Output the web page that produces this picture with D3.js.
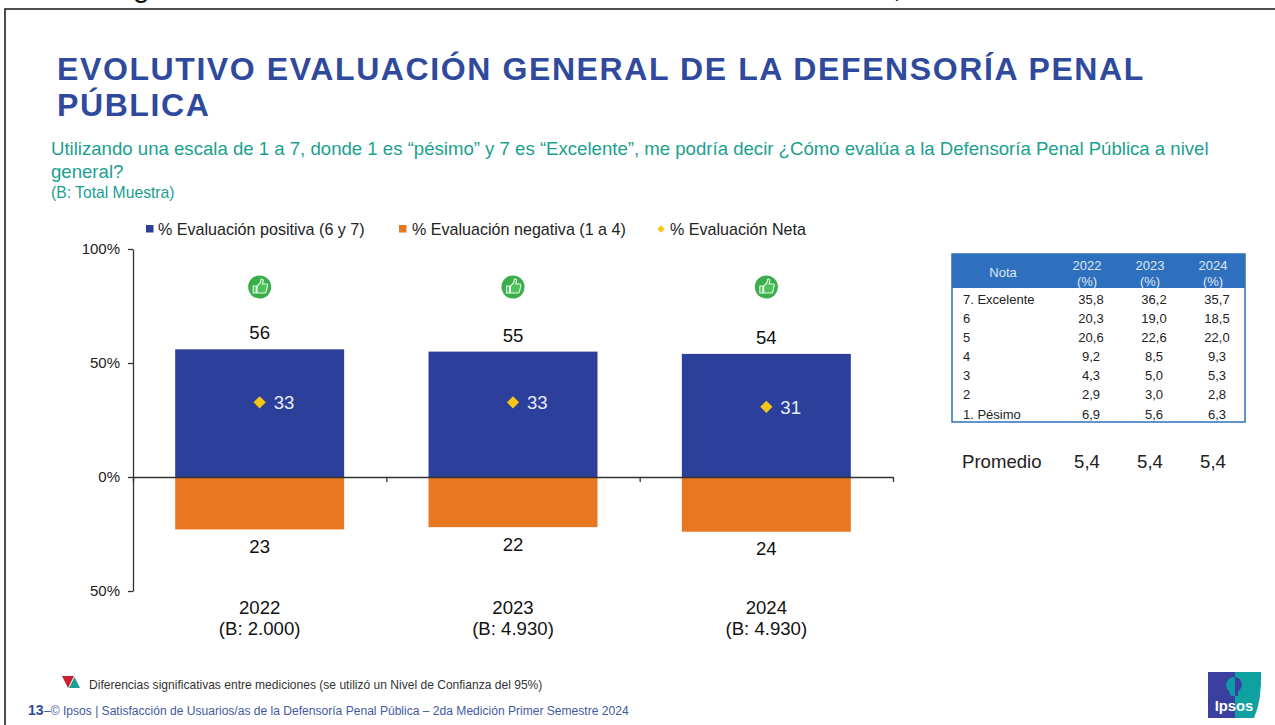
<!DOCTYPE html>
<html><head><meta charset="utf-8">
<script src="https://cdn.jsdelivr.net/npm/d3@7"></script>
<style>html,body{margin:0;background:#fff;overflow:hidden}svg{display:block}text{font-family:"Liberation Sans",Arial,sans-serif}</style>
</head><body><div id="c"></div>
<script>
const years=["2022","2023","2024"];
const bases=["(B: 2.000)","(B: 4.930)","(B: 4.930)"];
const positive=[56,55,54];
const negative=[23,22,24];
const neta=[33,33,31];
const axisTicks=[100,50,0,-50];
const notas=["7. Excelente","6","5","4","3","2","1. Pésimo"];
const t2022=["35,8","20,3","20,6","9,2","4,3","2,9","6,9"];
const t2023=["36,2","19,0","22,6","8,5","5,0","3,0","5,6"];
const t2024=["35,7","18,5","22,0","9,3","5,3","2,8","6,3"];
const promedio=["5,4","5,4","5,4"];
const legendItems=["% Evaluación positiva (6 y 7)","% Evaluación negativa (1 a 4)","% Evaluación Neta"];
const BLUE="#2b3f9b",ORANGE="#e87722",YEL="#f5c518",TEAL="#1aa08f",TITLE="#2f4a9c";

const svg=d3.select("#c").append("svg").attr("width",1275).attr("height",725);
const T=(x,y,s,size,fill,anchor,extra)=>{const t=svg.append("text").attr("x",x).attr("y",y).attr("font-size",size).attr("fill",fill||"#222").attr("text-anchor",anchor||"start").text(s);if(extra)extra(t);return t;};
const diamond=(cx,cy,area)=>svg.append("path").attr("transform",`translate(${cx},${cy}) rotate(45)`).attr("d",d3.symbol(d3.symbolSquare,area)).attr("fill",YEL);
svg.append("rect").attr("x",5).attr("y",9).attr("width",1290).attr("height",800).attr("fill","none").attr("stroke","#222").attr("stroke-width",1.6);

const bold=t=>t.attr("font-weight","bold").attr("letter-spacing",1.6);
T(57,80,"EVOLUTIVO EVALUACIÓN GENERAL DE LA DEFENSORÍA PENAL",32,TITLE,"start",bold);
T(57,116,"PÚBLICA",32,TITLE,"start",bold);
T(51,155,"Utilizando una escala de 1 a 7, donde 1 es “pésimo” y 7 es “Excelente”, me podría decir ¿Cómo evalúa a la Defensoría Penal Pública a nivel",18.6,TEAL);
T(51,178,"general?",18.6,TEAL);
T(51,198,"(B: Total Muestra)",15.7,TEAL);

// legend
const legX=[146,399,657];
const legText=[158,412,670];
legendItems.forEach((s,i)=>{
  if(i<2) svg.append("rect").attr("x",legX[i]).attr("y",225).attr("width",7.5).attr("height",7.5).attr("fill",i?ORANGE:BLUE);
  else diamond(legX[i]+4,229,27);
  T(legText[i],234.5,s,16.1,"#222");
});

// chart
const y=d3.scaleLinear().domain([-50,100]).range([591,249]);
const x=d3.scaleBand().domain(years).range([133,893]).paddingInner(0.333).paddingOuter(0.1665);
const g=svg.append("g");
g.selectAll(".p").data(years).join("rect").attr("x",d=>x(d)).attr("width",x.bandwidth()).attr("y",(d,i)=>y(positive[i])).attr("height",(d,i)=>y(0)-y(positive[i])).attr("fill",BLUE);
g.selectAll(".n").data(years).join("rect").attr("x",d=>x(d)).attr("width",x.bandwidth()).attr("y",y(0)).attr("height",(d,i)=>y(-negative[i])-y(0)).attr("fill",ORANGE);
const yAxis=d3.axisLeft(y).tickValues(axisTicks).tickSize(5).tickSizeOuter(0).tickFormat(d=>Math.abs(d)+"%");
const ya=g.append("g").attr("transform","translate(133,0)").call(yAxis);
ya.selectAll("text").attr("font-size",15).attr("fill","#222").attr("x",-13);
ya.selectAll("line,path").attr("stroke","#333").attr("stroke-width",1.3);
const xa=g.append("g").attr("transform",`translate(0,${y(0)})`).call(d3.axisBottom(d3.scaleLinear().domain([0,3]).range([133,893])).tickValues([0,1,2,3]).tickSize(5).tickSizeOuter(0).tickFormat(""));
xa.selectAll("line,path").attr("stroke","#333").attr("stroke-width",1.3);

years.forEach((yr,i)=>{
  const cx=x(yr)+x.bandwidth()/2;
  T(cx,y(positive[i])-10,positive[i],18.6,"#111","middle");
  T(cx,y(-negative[i])+23.5,negative[i],18.6,"#111","middle");
  const ny=y(neta[i])+0.5;
  diamond(cx,ny,75);
  T(cx+14,ny+7,neta[i],18.6,"#e8ecf8");
  T(cx,613.5,yr,18.6,"#111","middle");
  T(cx,634.5,bases[i],18.6,"#111","middle");
  // thumb icon
  const ic=svg.append("g").attr("transform",`translate(${cx},287)`);
  ic.append("circle").attr("r",11.5).attr("fill","#3aae4a");
  ic.append("path").attr("d","M-6.500,-1h3v7h-3zM-2.500,-1l3,-3l1,-4q2.500,0 2,2.500l-.7,2.500h4q1.500,0 1,2l-1.500,6q-.4,1 -1.500,1h-7.500z").attr("fill","#4cc25a").attr("stroke","#e9f7ea").attr("stroke-width",1.1);
});

// table
const tx=952,ty=254,tw=293,hh=34;
const headX=[1087,1150,1213], colX=[1091,1154,1217], rowH=19.17;
svg.append("rect").attr("x",tx).attr("y",ty).attr("width",tw).attr("height",hh).attr("fill","#2e70bd");
svg.append("rect").attr("x",tx).attr("y",ty).attr("width",tw).attr("height",168).attr("fill","none").attr("stroke","#2e70bd").attr("stroke-width",1.5);
T(1003,277,"Nota",13,"#dfe9f6","middle");
years.forEach((yr,i)=>{T(headX[i],270,yr,13,"#dfe9f6","middle");T(headX[i],286,"(%)",13,"#dfe9f6","middle");});
notas.forEach((n,r)=>{
  const yy=303.5+r*rowH;
  T(963,yy,n,13,"#222");
  [t2022,t2023,t2024].forEach((col,i)=>T(colX[i],yy,col[r],13,"#222","middle"));
});
T(962,467.5,"Promedio",18.6,"#222");
promedio.forEach((p,i)=>T(headX[i],467.5,p,18.6,"#222","middle"));

// footer
svg.append("path").attr("d","M62,676h12l-6,12z").attr("fill","#c8202f");
svg.append("path").attr("d","M69,688l5.500,-11l5.500,11z").attr("fill","#1a9e96");
T(89,689,"Diferencias significativas entre mediciones (se utilizó un Nivel de Confianza del 95%)",12.05,"#333");
T(28,715,"13",14,TITLE,"start",t=>t.attr("font-weight","bold"));
T(44,715,"–© Ipsos | Satisfacción de Usuarios/as de la Defensoría Penal Pública – 2da Medición Primer Semestre 2024",12.07,"#3f5a9f");

// logo
svg.append("path").attr("d","M1208,672H1235V718H1208z").attr("fill","#3b3f9f");
svg.append("path").attr("d","M1235,672H1261Q1262,700 1254,718H1235z").attr("fill","#0fa0a0");
svg.append("path").attr("d","M1235,677A8,8 0 0 0 1229,691L1231,696H1235z").attr("fill","#0f9aa8");
svg.append("path").attr("d","M1235,677A7.500,7.500 0 0 1 1241,688L1238,692V696H1235z").attr("fill","#3b3f9f");
T(1234,711,"Ipsos",14.8,"#fff","middle",t=>t.attr("font-weight","bold"));

// cropped heading
T(133,-3,"g",30,"#111");
T(893,-3,",",30,"#111");
</script></body></html>
